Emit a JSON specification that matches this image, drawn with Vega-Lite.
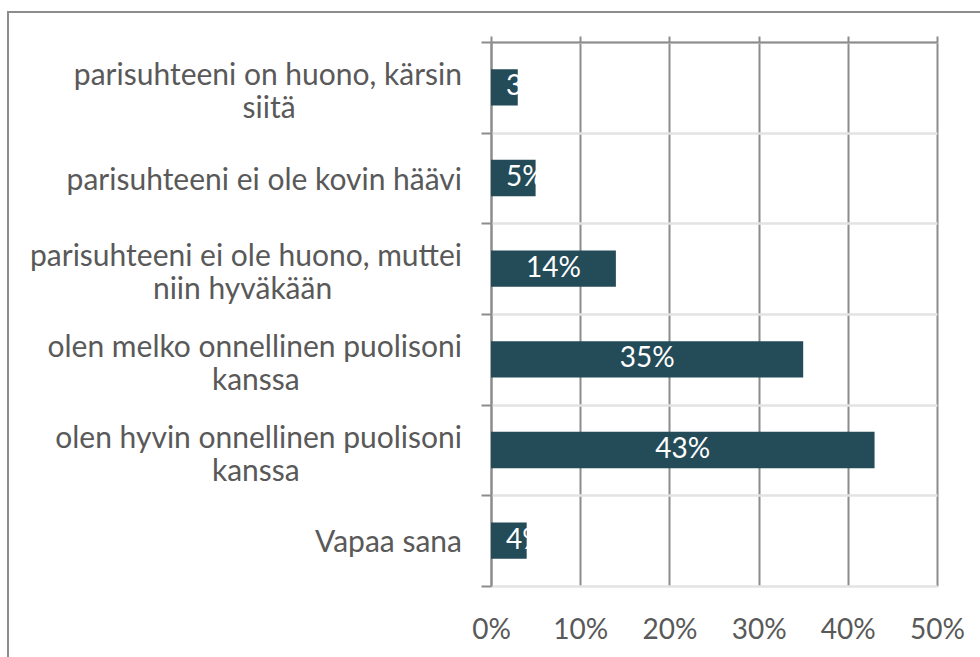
{
  "$schema": "https://vega.github.io/schema/vega-lite/v6.json",
  "width": 975,
  "height": 650,
  "autosize": {"type": "none"},
  "padding": {"left": 8, "top": 12, "right": 0, "bottom": 0},
  "background": "white",
  "config": {"view": {"stroke": "#8c8c8c", "strokeWidth": 2}, "font": "Lato"},
  "data": {
    "values": [
      {"cat": "parisuhteeni on huono, kärsin\nsiitä", "value": 0.03},
      {"cat": "parisuhteeni ei ole kovin häävi", "value": 0.05},
      {"cat": "parisuhteeni ei ole huono, muttei\nniin hyväkään", "value": 0.14},
      {"cat": "olen melko onnellinen puolisoni\nkanssa", "value": 0.35},
      {"cat": "olen hyvin onnellinen puolisoni\nkanssa", "value": 0.43},
      {"cat": "Vapaa sana", "value": 0.04}
    ]
  },
  "encoding": {
    "y": {
      "field": "cat",
      "type": "nominal",
      "sort": null,
      "scale": {"paddingInner": 0, "paddingOuter": 0, "range": [30, 574]},
      "axis": {
        "title": null,
        "offset": -483,
        "domainColor": "#8c8c8c",
        "domainWidth": 2,
        "ticks": true,
        "tickBand": "extent",
        "tickColor": "#8c8c8c",
        "tickWidth": 2,
        "tickSize": 10,
        "grid": true,
        "gridColor": "#e3e3e3",
        "gridWidth": 2.5,
        "labels": false
      }
    }
  },
  "resolve": {"axis": {"x": "independent"}},
  "layer": [
    {
      "mark": {"type": "bar", "color": "#244b58", "height": {"band": 0.4}},
      "encoding": {
        "x": {
          "field": "value",
          "type": "quantitative",
          "scale": {"domain": [0, 0.5], "nice": false, "range": [483, 929]},
          "axis": {
            "orient": "top",
            "title": null,
            "values": [0, 0.1, 0.2, 0.3, 0.4, 0.5],
            "domain": false,
            "ticks": false,
            "labels": false,
            "grid": true,
            "gridColor": "#8c8c8c",
            "gridWidth": 2
          }
        }
      }
    },
    {
      "transform": [
        {"filter": "datum.value >= 0.1"},
        {"calculate": "datum.value / 2", "as": "mid"}
      ],
      "mark": {"type": "text", "color": "white", "fontSize": 28, "font": "Lato", "align": "center", "baseline": "middle"},
      "encoding": {
        "x": {
          "field": "mid",
          "type": "quantitative",
          "axis": {
            "orient": "top",
            "offset": -30,
            "title": null,
            "values": [0, 0.1, 0.2, 0.3, 0.4, 0.5],
            "labels": false,
            "grid": false,
            "domain": true,
            "domainColor": "#8c8c8c",
            "domainWidth": 2,
            "ticks": true,
            "tickColor": "#8c8c8c",
            "tickWidth": 2,
            "tickSize": 6
          }
        },
        "text": {"field": "value", "type": "quantitative", "format": ".0%"}
      }
    },
    {
      "transform": [{"filter": "datum.value < 0.1"}],
      "mark": {
        "type": "text",
        "color": "white",
        "fontSize": 28,
        "font": "Lato",
        "align": "left",
        "baseline": "middle",
        "dx": 15
      },
      "encoding": {
        "x": {
          "datum": 0,
          "type": "quantitative",
          "axis": {
            "orient": "bottom",
            "offset": -76,
            "title": null,
            "values": [0, 0.1, 0.2, 0.3, 0.4, 0.5],
            "format": ".0%",
            "domain": false,
            "ticks": false,
            "grid": false,
            "labelFlush": false,
            "labelFont": "Lato",
            "labelFontSize": 28,
            "labelColor": "#595959",
            "labelPadding": 30
          }
        },
        "text": {"field": "value", "type": "quantitative", "format": ".0%"}
      }
    },
    {
      "transform": [
        {"calculate": "split(datum.cat, '\\n')[0]", "as": "line1"},
        {"calculate": "length(split(datum.cat, '\\n'))", "as": "nlines"}
      ],
      "mark": {
        "type": "text",
        "font": "Lato",
        "fontSize": 30,
        "color": "#595959",
        "align": "right",
        "baseline": "middle",
        "dx": -29,
        "dy": {"expr": "datum.nlines > 1 ? -11.5 : 2.5"}
      },
      "encoding": {
        "x": {"datum": 0, "type": "quantitative", "axis": null},
        "text": {"field": "line1", "type": "nominal"}
      }
    },
    {
      "transform": [
        {"filter": "length(split(datum.cat, '\\n')) > 1"},
        {"calculate": "split(datum.cat, '\\n')[0]", "as": "line1"},
        {"calculate": "split(datum.cat, '\\n')[1]", "as": "line2"}
      ],
      "mark": {
        "type": "text",
        "font": "Lato",
        "fontSize": 30,
        "color": "#595959",
        "align": "center",
        "baseline": "middle",
        "dy": 21.5,
        "dx": {"expr": "-29 - 0.5 * 13.3 * length(datum.line1)"}
      },
      "encoding": {
        "x": {"datum": 0, "type": "quantitative", "axis": null},
        "text": {"field": "line2", "type": "nominal"}
      }
    }
  ]
}
